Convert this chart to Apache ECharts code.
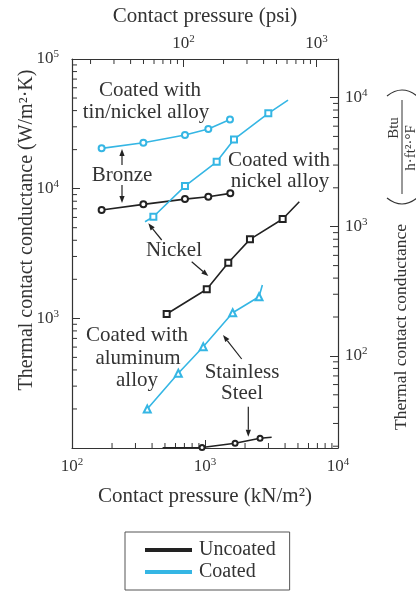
<!DOCTYPE html>
<html>
<head>
<meta charset="utf-8">
<script src="https://cdn.jsdelivr.net/npm/echarts@6/dist/echarts.min.js"></script>
<style>
  html, body { margin: 0; padding: 0; background: #fff; }
  #chart { width: 416px; height: 593px; }
</style>
</head>
<body>
<div id="chart"></div>
<script>
// contact pressure in kN/m2, conductance in W/m2.K
const tinNickelP = [167, 344, 707, 1059, 1541]
const tinNickelH = [20460, 22600, 25900, 28800, 34200]

const bronzeP = [167, 344, 707, 1059, 1550]
const bronzeH = [6840, 7570, 8310, 8660, 9200]

const niAlloyP = [409, 707, 1224, 1652, 2992]
const niAlloyH = [6070, 10470, 16110, 23990, 38090]
const niAlloyStart = [354, 5560]
const niAlloyEnd = [4210, 48200]

const nickelP = [515, 1031, 1496, 2178, 3837]
const nickelH = [1080, 1675, 2685, 4065, 5835]
const nickelEnd = [5117, 7925]

const aluminumP = [368, 630, 970, 1615, 2548]
const aluminumH = [200, 377, 604, 1104, 1468]
const aluminumEnd = [2700, 1806]

const stainlessP = [950, 1683, 2594]
const stainlessH = [101, 108.7, 118.8]
const stainlessStart = [480, 100.4]
const stainlessEnd = [3170, 121]

// axis ranges
const kpaRange = [100, 10000]
const psiRange = [100 / 6.895, 10000 / 6.895]
const wRange = [100, 100000]
const btuRange = [19.37, 19870]

// minor ticks
const kpaMinor = [200, 300, 400, 500, 600, 700, 800, 900, 2000, 3000, 4000, 5000, 6000, 7000, 8000, 9000]
const psiMinor = [20, 30, 40, 50, 60, 70, 80, 90, 200, 300, 400, 500, 600, 700, 800, 900]
const wMinor = [200, 300, 400, 500, 600, 700, 800, 900, 2000, 3000, 4000, 5000, 6000, 7000, 8000, 9000,
  20000, 30000, 40000, 50000, 60000, 70000, 80000, 90000]
const btuMinor = [20, 30, 40, 50, 60, 70, 80, 90, 200, 300, 400, 500, 600, 700, 800, 900,
  2000, 3000, 4000, 5000, 6000, 7000, 8000, 9000]

const BLACK = '#222'
const CYAN = '#35b6e4'
const TEXT = '#333'
const FONT = '"Liberation Serif", "DejaVu Serif", serif'

const chart = echarts.init(document.getElementById('chart'))

function powLabel (v) {
  const e = Math.round(Math.log10(v))
  return '{b|10}{s|' + e + '}'
}

const labelRich = {
  b: { fontFamily: FONT, fontSize: 17, color: TEXT, lineHeight: 20 },
  s: { fontFamily: FONT, fontSize: 11, color: TEXT, lineHeight: 11, verticalAlign: 'top' }
}

function logAxis (extra) {
  return Object.assign({
    type: 'log',
    logBase: 10,
    axisLine: { show: true, lineStyle: { color: TEXT, width: 1.2 } },
    axisTick: { show: true, inside: true, length: 8, lineStyle: { color: TEXT, width: 1 } },
    splitLine: { show: false },
    minorTick: { show: false },
    axisLabel: { formatter: powLabel, rich: labelRich, showMinLabel: true, showMaxLabel: true },
    nameTextStyle: { fontFamily: FONT, fontSize: 21, color: TEXT }
  }, extra)
}

function lineSeries (name, color, symbol, P, H, start, end, size) {
  const data = P.map((p, i) => [p, H[i]])
  if (start) data.unshift({ value: start, symbol: 'none' })
  if (end) data.push({ value: end, symbol: 'none' })
  return {
    type: 'line',
    name: name,
    data: data,
    symbol: symbol,
    symbolSize: size || 6,
    showAllSymbol: true,
    lineStyle: { color: color, width: 1.6 },
    itemStyle: { color: color, borderColor: color, borderWidth: 1.2 },
    clip: true,
    z: 4
  }
}

// minor ticks placed through the axes
function tickSeries (vals, side, len) {
  const isX = side === 'top' || side === 'bottom'
  return {
    type: 'custom',
    name: 'ticks-' + side,
    xAxisIndex: side === 'top' ? 1 : 0,
    yAxisIndex: side === 'right' ? 1 : 0,
    silent: true,
    clip: false,
    z: 3,
    data: vals.map(v => isX ? [v, 1000] : [1000, v]),
    renderItem: function (params, api) {
      const cs = params.coordSys
      const pt = api.coord([api.value(0), api.value(1)])
      let shape
      if (side === 'bottom') shape = { x1: pt[0], y1: cs.y + cs.height, x2: pt[0], y2: cs.y + cs.height - len }
      else if (side === 'top') shape = { x1: pt[0], y1: cs.y, x2: pt[0], y2: cs.y + len }
      else if (side === 'left') shape = { x1: cs.x, y1: pt[1], x2: cs.x + len, y2: pt[1] }
      else shape = { x1: cs.x + cs.width, y1: pt[1], x2: cs.x + cs.width - len, y2: pt[1] }
      return { type: 'line', shape: shape, style: { stroke: TEXT, lineWidth: 1 } }
    }
  }
}

function arrow (x1, y1, x2, y2) {
  const a = Math.atan2(y2 - y1, x2 - x1)
  const L = 7
  const W = 2.6
  const bx = x2 - L * Math.cos(a)
  const by = y2 - L * Math.sin(a)
  const nx = -Math.sin(a) * W
  const ny = Math.cos(a) * W
  return [
    { type: 'line', shape: { x1: x1, y1: y1, x2: bx, y2: by }, style: { stroke: BLACK, lineWidth: 1.2 } },
    { type: 'polygon', shape: { points: [[x2, y2], [bx + nx, by + ny], [bx - nx, by - ny]] }, style: { fill: BLACK } }
  ]
}

function label (text, x, y) {
  return { type: 'text', x: x, y: y, style: { text: text, font: '21px ' + FONT, fill: TEXT, align: 'center', verticalAlign: 'middle' } }
}

const annotations = [
  label('Coated with', 150, 90),
  label('tin/nickel alloy', 146, 112),
  label('Bronze', 122, 175),
  label('Coated with', 279, 160),
  label('nickel alloy', 280, 181),
  label('Nickel', 174, 250),
  label('Coated with', 137, 335),
  label('aluminum', 138, 358),
  label('alloy', 137, 380),
  label('Stainless', 242, 372),
  label('Steel', 242, 393)
].concat(
  arrow(122, 165, 122, 149),
  arrow(122, 185, 122, 203),
  arrow(161.7, 240, 148.3, 223.3),
  arrow(191.7, 261.7, 208.3, 276),
  arrow(241.7, 359, 223, 335),
  arrow(248.3, 406.7, 248.3, 436.7)
)

// left axis title
annotations.push({
  type: 'text', x: 27, y: 230, rotation: Math.PI / 2,
  style: { text: 'Thermal contact conductance (W/m²·K)', font: '20px ' + FONT, fill: TEXT, align: 'center', verticalAlign: 'middle' }
})

// right axis title, drawn in a rotated frame
annotations.push({
  type: 'group', x: 401, y: 448, rotation: Math.PI / 2,
  children: [
    { type: 'text', x: 18, y: 0, style: { text: 'Thermal contact conductance', font: '17.5px ' + FONT, fill: TEXT, align: 'left', verticalAlign: 'middle' } },
    { type: 'bezierCurve', shape: { x1: 250, y1: -14, cpx1: 238, cpy1: 1, x2: 250, y2: 16 }, style: { stroke: TEXT, lineWidth: 1.2, fill: null } },
    { type: 'bezierCurve', shape: { x1: 352, y1: -14, cpx1: 364, cpy1: 1, x2: 352, y2: 16 }, style: { stroke: TEXT, lineWidth: 1.2, fill: null } },
    { type: 'line', shape: { x1: 254, y1: 1, x2: 348, y2: 1 }, style: { stroke: TEXT, lineWidth: 1 } },
    { type: 'text', x: 320, y: -7, style: { text: 'Btu', font: '15px ' + FONT, fill: TEXT, align: 'center', verticalAlign: 'middle' } },
    { type: 'text', x: 300, y: 10, style: { text: 'h·ft²·°F', font: '15px ' + FONT, fill: TEXT, align: 'center', verticalAlign: 'middle' } }
  ]
})

chart.setOption({
  animation: false,
  backgroundColor: '#fff',
  grid: { left: 72, right: 78, top: 59, bottom: 145 },
  legend: {
    data: ['Uncoated', 'Coated'],
    orient: 'vertical',
    left: 125,
    top: 532,
    icon: 'rect',
    itemWidth: 45,
    itemHeight: 2,
    itemGap: 2,
    borderColor: '#555',
    borderWidth: 1,
    borderRadius: 0,
    padding: [8, 14, 8, 20],
    textStyle: { fontFamily: FONT, fontSize: 20, color: TEXT, lineHeight: 20, padding: [0, 0, 0, 3] }
  },
  xAxis: [
    logAxis({
      position: 'bottom', min: kpaRange[0], max: kpaRange[1],
      name: 'Contact pressure (kN/m²)', nameLocation: 'middle', nameGap: 38,
      axisLabel: { formatter: powLabel, rich: labelRich, margin: 9 }
    }),
    logAxis({
      position: 'top', min: psiRange[0], max: psiRange[1],
      name: 'Contact pressure (psi)', nameLocation: 'middle', nameGap: 32,
      axisLabel: { formatter: powLabel, rich: labelRich, margin: 5, showMinLabel: false, showMaxLabel: false }
    })
  ],
  yAxis: [
    logAxis({
      position: 'left', min: wRange[0], max: wRange[1],
      axisLabel: { formatter: powLabel, rich: labelRich, margin: 13, showMinLabel: false }
    }),
    logAxis({
      position: 'right', min: btuRange[0], max: btuRange[1],
      axisLabel: { formatter: powLabel, rich: labelRich, margin: 7, showMinLabel: false, showMaxLabel: false }
    })
  ],
  series: [
    lineSeries('Coated', CYAN, 'emptyCircle', tinNickelP, tinNickelH),
    lineSeries('Uncoated', BLACK, 'emptyCircle', bronzeP, bronzeH),
    lineSeries('Coated', CYAN, 'emptyRect', niAlloyP, niAlloyH, niAlloyStart, niAlloyEnd),
    lineSeries('Uncoated', BLACK, 'emptyRect', nickelP, nickelH, null, nickelEnd),
    lineSeries('Coated', CYAN, 'emptyTriangle', aluminumP, aluminumH, null, aluminumEnd, 7),
    lineSeries('Uncoated', BLACK, 'emptyCircle', stainlessP, stainlessH, stainlessStart, stainlessEnd, 5),
    tickSeries(kpaMinor, 'bottom', 5),
    tickSeries(psiMinor, 'top', 5),
    tickSeries(wMinor, 'left', 5),
    tickSeries(btuMinor, 'right', 5)
  ],
  graphic: annotations
})
</script>
</body>
</html>
